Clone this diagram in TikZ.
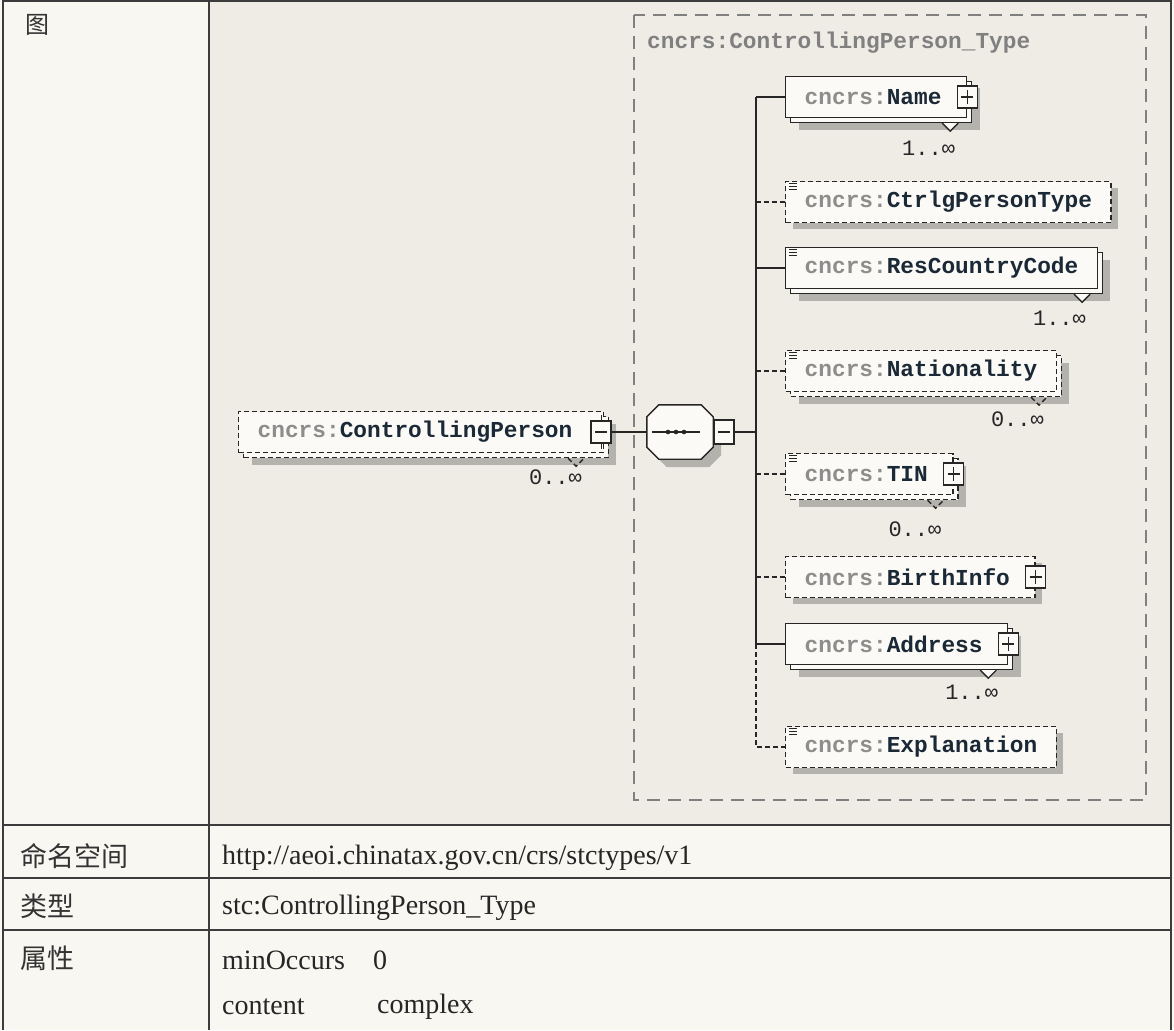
\documentclass[tikz,border=0pt]{standalone}
\usepackage{fontspec}
\setmainfont{Liberation Serif}
\newfontfamily\xmlfont{Liberation Mono}
\newfontfamily\cjk{Noto Sans CJK SC}
\usepackage{tikz}
\usetikzlibrary{positioning, calc, shadows}
\usepackage{xcolor}
\definecolor{paper}{RGB}{248,247,242}
\definecolor{diagbg}{RGB}{239,236,229}
\definecolor{boxfill}{RGB}{251,250,246}
\definecolor{shadowgray}{RGB}{180,178,173}
\definecolor{ink}{RGB}{38,38,38}
\definecolor{prefgray}{RGB}{141,141,141}
\definecolor{namecol}{RGB}{27,40,54}
\definecolor{typegray}{RGB}{128,128,128}
\definecolor{rule}{RGB}{60,60,60}

\newcommand{\xmlb}{\xmlfont\bfseries\fontsize{22.8}{24}\selectfont}
\newcommand{\xmlr}{\xmlfont\fontsize{22}{24}\selectfont}
\newcommand{\qname}[1]{{\color{prefgray}cncrs:}#1}
\newcommand{\simpleicon}[1]{%
  \foreach \k in {0,1,2}
    {\draw[ink, line width=0.9pt] ($(#1.north west)+(4pt,{-(3+3*\k)*1pt})$) -- ++(8pt,0);}}
% octagon round a node
\newcommand{\seqoutline}[1]{%
  ($(#1.north west)+(12pt,0)$) -- ($(#1.north east)+(-12pt,0)$) -- ($(#1.north east)+(0,-12pt)$)
  -- ($(#1.south east)+(0,12pt)$) -- ($(#1.south east)+(-12pt,0)$) -- ($(#1.south west)+(12pt,0)$)
  -- ($(#1.south west)+(0,12pt)$) -- ($(#1.north west)+(0,-12pt)$) -- cycle}

\tikzset{
  elem/.style={draw=ink, fill=boxfill, line width=1.4pt, anchor=west,
    minimum height=41pt, inner xsep=19pt, inner ysep=0pt, font=\xmlb, text=namecol},
  optional/.style={dash pattern=on 5pt off 3pt},
  single/.style={drop shadow={shadow xshift=7pt, shadow yshift=-6pt, fill=shadowgray, opacity=1, draw=none}},
  multi/.style={drop shadow={shadow xshift=13pt, shadow yshift=-12pt, fill=shadowgray, opacity=1, draw=none},
    copy shadow={shadow xshift=5pt, shadow yshift=-5pt}},
  seqbox/.style={minimum width=66pt, minimum height=54pt, inner sep=0pt},
  btn/.style={draw=ink, fill=boxfill, line width=1.4pt, minimum width=20pt,
    minimum height=22pt, inner sep=0pt},
  plusbtn/.style={btn, path picture={
    \draw[ink, line width=1.4pt]
      ([xshift=4pt]path picture bounding box.west) -- ([xshift=-4pt]path picture bounding box.east)
      ([yshift=-4pt]path picture bounding box.north) -- ([yshift=4pt]path picture bounding box.south);}},
  minusbtn/.style={btn, path picture={
    \draw[ink, line width=1.4pt]
      ([xshift=4pt]path picture bounding box.west) -- ([xshift=-4pt]path picture bounding box.east);}},
  card/.style={font=\xmlr, text=ink, anchor=north east, inner sep=0pt},
  wire/.style={ink, line width=1.4pt},
  cell/.style={anchor=west, inner sep=0pt, font=\fontsize{28}{30}\selectfont, text=black!85},
  cjkcell/.style={anchor=west, inner sep=0pt, font=\cjk\fontsize{27}{29}\selectfont, text=black!80},
}

\begin{document}
\begin{tikzpicture}[x=1pt, y=-1pt]
  \useasboundingbox (0,0) rectangle (1174,1030);
  % paper and table
  \fill[paper] (0,0) rectangle (1174,1030);
  \fill[diagbg] (209,0) rectangle (1171,825);
  \draw[rule, line width=1.5pt] (3,1) -- (1171,1) (3,0) -- (3,1030) (1171,0) -- (1171,1030)
    (209,0) -- (209,1030);
  \foreach \ry in {825,878,930}
    \draw[rule, line width=1.5pt] (3,\ry) -- (1171,\ry);

  % complex type frame
  \draw[typegray, line width=1.3pt, dash pattern=on 13pt off 8pt] (634,15) rectangle (1146,800);
  \node[anchor=west, inner sep=0pt, font=\xmlb, text=typegray] (typetitle) at (647,43)
    {cncrs:ControllingPerson\_Type};

  % root element and sequence
  \node[elem, multi, optional] (cp) at (238,432) {\qname{ControllingPerson}\hspace*{12pt}};
  \node[minusbtn] (cpbtn) at ($(cp.east)+(-3pt,0)$) {};
  \draw[ink, line width=1.2pt] (cpbtn.north) -- ++(0,5pt) (cpbtn.south) -- ++(0,-5pt);
  \node[card] (cpcard) at ($(cp.south east)+(-22pt,-16pt)$) {0..∞};

  \node[seqbox] (seqshadow) at (688,440) {};
  \node[seqbox] (seq) at (680,432) {};
  \fill[shadowgray] \seqoutline{seqshadow};
  \draw[ink, fill=boxfill, line width=1.4pt] \seqoutline{seq};
  \draw[wire] ($(seq.west)+(5pt,0)$) -- ($(seq.east)+(-13pt,0)$);
  \foreach \dx in {-12,-4,4}
    \fill[ink] ($(seq.center)+(\dx pt,0)$) circle (2.3pt);
  \node[minusbtn, anchor=west, minimum height=24pt] (seqbtn) at (seq.east) {};

  % child elements
  \node[elem, multi] (name) at (785,97) {\qname{Name}\hspace*{6pt}};
  \node[plusbtn] (namebtn) at (name.east) {};
  \node[elem, single, optional] (ptype) at (785,202) {\qname{CtrlgPersonType}};
  \node[elem, multi] (rescc) at (785,268) {\qname{ResCountryCode}};
  \node[elem, multi, optional] (nation) at (785,371) {\qname{Nationality}};
  \node[elem, multi, optional] (tin) at (785,474) {\qname{TIN}\hspace*{6pt}};
  \node[plusbtn] (tinbtn) at (tin.east) {};
  \node[elem, single, optional] (birth) at (785,577) {\qname{BirthInfo}\hspace*{6pt}};
  \node[plusbtn] (birthbtn) at (birth.east) {};
  \node[elem, multi] (addr) at (785,644) {\qname{Address}\hspace*{6pt}};
  \node[plusbtn] (addrbtn) at (addr.east) {};
  \node[elem, single, optional] (expl) at (785,747) {\qname{Explanation}};

  \foreach \e in {ptype, rescc, nation, tin, expl}
    {\simpleicon{\e}}

  % occurrence marks
  \draw[wire, fill=boxfill] ($(name.south east)+(-25pt,-5pt)$) -- ++(8pt,-8pt) -- ++(8pt,8pt);
  \draw[wire, fill=boxfill] ($(rescc.south east)+(-24pt,-5pt)$) -- ++(8pt,-8pt) -- ++(8pt,8pt);
  \draw[wire, fill=boxfill] ($(addr.south east)+(-28pt,-5pt)$) -- ++(8pt,-8pt) -- ++(8pt,8pt);
  \draw[wire, optional] ($(nation.south east)+(-26pt,-5pt)$) -- ++(8pt,-8pt) -- ++(8pt,8pt);
  \draw[wire, optional] ($(tin.south east)+(-26pt,-5pt)$) -- ++(8pt,-8pt) -- ++(8pt,8pt);
  \draw[wire, optional] ($(cp.south east)+(-36pt,-5pt)$) -- ++(8pt,-8pt) -- ++(8pt,8pt);

  \node[card] (namecard) at ($(name.south east)+(-12pt,-23pt)$) {1..∞};
  \node[card] (rescccard) at ($(rescc.south east)+(-12pt,-22pt)$) {1..∞};
  \node[card] (nationcard) at ($(nation.south east)+(-13pt,-19pt)$) {0..∞};
  \node[card] (tincard) at ($(tin.south east)+(-12pt,-26pt)$) {0..∞};
  \node[card] (addrcard) at ($(addr.south east)+(-10pt,-20pt)$) {1..∞};

  % connectors
  \coordinate (spine) at (756,0);
  \draw[wire] (cpbtn.east) -- (seq.west);
  \draw[wire] (seqbtn.east) -- (seqbtn.east -| spine);
  \draw[wire] (name.west -| spine) -- (addr.west -| spine);
  \draw[wire, optional] (addr.west -| spine) -- (expl.west -| spine) -- (expl.west);
  \foreach \e in {name, rescc, addr}
    \draw[wire] (\e.west -| spine) -- (\e.west);
  \foreach \e in {ptype, nation, tin, birth}
    \draw[wire, optional] (\e.west -| spine) -- (\e.west);

  % table text
  \node[cjkcell, font=\cjk\fontsize{24}{26}\selectfont] (figlabel) at (25,25) {图};
  \node[cjkcell] (nslabel) at (20,856) {命名空间};
  \node[cjkcell] (typelabel) at (20,906) {类型};
  \node[cjkcell] (attrlabel) at (20,958) {属性};
  \node[cell] (nsval) at (222,858) {http://aeoi.chinatax.gov.cn/crs/stctypes/v1};
  \node[cell] (typeval) at (222,908) {stc:ControllingPerson\_Type};
  \node[cell] (minocc) at (222,960) {minOccurs};
  \node[cell] (minval) at (373,960) {0};
  \node[cell] (content) at (222,1007) {content};
  \node[cell] (contval) at (377,1007) {complex};
\end{tikzpicture}
\end{document}
